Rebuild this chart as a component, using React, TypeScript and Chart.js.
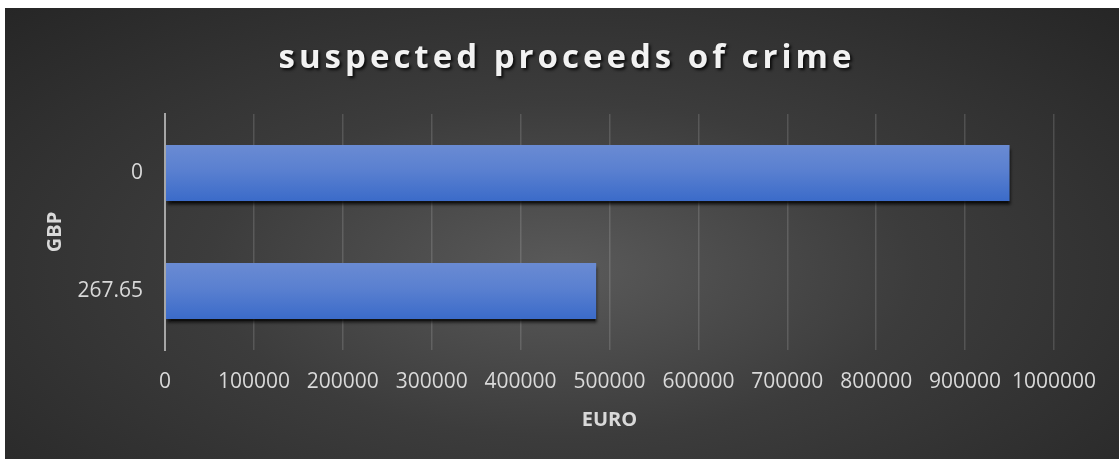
import React, { useEffect, useRef } from "react";
import { Chart, registerables } from "chart.js";

Chart.register(...registerables);

const categories = ["0", "267.65"];
const euroValues = [950000, 485000];
const xTicks = [0, 100000, 200000, 300000, 400000, 500000, 600000, 700000, 800000, 900000, 1000000];
const titleText = "suspected proceeds of crime";
const xTitle = "EURO";
const yTitle = "GBP";

const FONT = "'Open Sans', 'DejaVu Sans', sans-serif";
const BAR_PCT = 0.475;

const titlePlugin = {
  id: "spacedTitle",
  afterDraw(chart: any) {
    const ctx = chart.ctx as CanvasRenderingContext2D;
    ctx.save();
    ctx.font = `bold 33px ${FONT}`;
    ctx.fillStyle = "#f2f2f2";
    ctx.textBaseline = "alphabetic";
    ctx.textAlign = "left";
    ctx.shadowColor = "rgba(0,0,0,0.8)";
    ctx.shadowOffsetX = 2;
    ctx.shadowOffsetY = 2;
    ctx.shadowBlur = 3;
    const spacing = 4;
    const chars = Array.from(titleText);
    const widths = chars.map((c) => ctx.measureText(c).width);
    const total = widths.reduce((a, b) => a + b, 0) + spacing * (chars.length - 1);
    let x = chart.width / 2 + 3 - total / 2;
    const y = 60;
    chars.forEach((c, i) => {
      ctx.fillText(c, x, y);
      x += widths[i] + spacing;
    });
    ctx.restore();
  },
};

const shadowPlugin = {
  id: "barShadow",
  beforeDatasetsDraw(chart: any) {
    const ctx = chart.ctx as CanvasRenderingContext2D;
    ctx.save();
    ctx.shadowColor = "rgba(0,0,0,0.75)";
    ctx.shadowOffsetX = 1;
    ctx.shadowOffsetY = 4;
    ctx.shadowBlur = 3;
  },
  afterDatasetsDraw(chart: any) {
    chart.ctx.restore();
  },
};

export default function App() {
  const ref = useRef<HTMLCanvasElement | null>(null);

  useEffect(() => {
    if (!ref.current) return;
    const chart = new Chart(ref.current, {
      type: "bar",
      data: {
        labels: categories,
        datasets: [
          {
            label: xTitle,
            data: euroValues,
            backgroundColor: (c: any) => {
              const chartRef = c.chart;
              const ys = chartRef.scales && chartRef.scales.y;
              if (!ys || c.dataIndex === undefined || !isFinite(ys.top)) return "#4f7acd";
              const center = ys.getPixelForValue(c.dataIndex);
              const h = ((ys.bottom - ys.top) / categories.length) * BAR_PCT;
              if (!isFinite(center) || !isFinite(h) || h <= 0) return "#4f7acd";
              const g = chartRef.ctx.createLinearGradient(0, center - h / 2, 0, center + h / 2);
              g.addColorStop(0, "#6a8bd3");
              g.addColorStop(0.45, "#5a80d0");
              g.addColorStop(1, "#3b6bc9");
              return g;
            },
            borderWidth: 0,
            categoryPercentage: 1,
            barPercentage: BAR_PCT,
          },
        ],
      },
      options: {
        indexAxis: "y",
        animation: false,
        responsive: false,
        devicePixelRatio: 1,
        layout: { padding: { top: 106, right: 65, bottom: 0, left: 0 } },
        plugins: {
          legend: { display: false },
          title: { display: false },
          tooltip: { enabled: false },
        },
        scales: {
          x: {
            type: "linear",
            min: 0,
            max: 1000000,
            afterBuildTicks: (axis: any) => {
              axis.ticks = xTicks.map((v) => ({ value: v }));
            },
            afterFit: (axis: any) => {
              axis.height = 109;
            },
            grid: {
              color: "rgba(255,255,255,0.14)",
              lineWidth: 1.5,
              drawTicks: false,
            },
            border: { display: false },
            ticks: {
              color: "#d9d9d9",
              font: { family: FONT, size: 21 },
              padding: 19,
              maxRotation: 0,
              autoSkip: false,
              callback: (v: any) => String(v),
            },
            title: {
              display: true,
              text: xTitle,
              color: "#d9d9d9",
              font: { family: FONT, size: 20, weight: "bold" },
              padding: { top: 0, bottom: 27 },
            },
          },
          y: {
            type: "category",
            afterFit: (axis: any) => {
              axis.width = 160;
            },
            grid: { display: false, drawTicks: false },
            border: { display: true, color: "#a6a6a6", width: 2, z: 1 },
            ticks: {
              color: "#d9d9d9",
              font: { family: FONT, size: 21 },
              padding: 22,
            },
            title: {
              display: true,
              text: yTitle,
              color: "#d9d9d9",
              font: { family: FONT, size: 20, weight: "bold" },
              padding: { top: 38, bottom: 0 },
            },
          },
        },
      },
      plugins: [shadowPlugin, titlePlugin],
    } as any);
    return () => chart.destroy();
  }, []);

  return (
    <div
      style={{
        position: "absolute",
        left: 5,
        top: 8,
        width: 1114,
        height: 451,
        background:
          "radial-gradient(ellipse farthest-corner at 50% 58%, #5a5a5a 0%, #3c3c3c 45%, #262626 100%)",
      }}
    >
      <canvas ref={ref} width={1114} height={451} style={{ display: "block" }} />
    </div>
  );
}
